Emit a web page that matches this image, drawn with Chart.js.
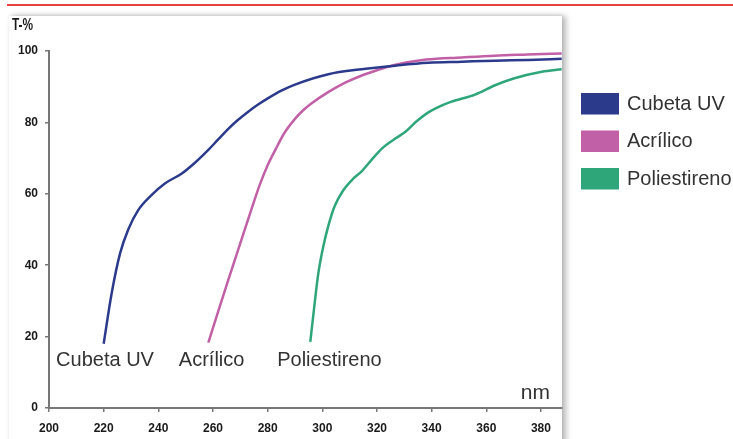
<!DOCTYPE html>
<html>
<head>
<meta charset="utf-8">
<script src="https://cdn.jsdelivr.net/npm/chart.js@4.4.1/dist/chart.umd.min.js"></script>
<style>
  html, body { margin: 0; padding: 0; background: #fff; width: 733px; height: 439px; overflow: hidden; }
  #redline { position: absolute; left: 7px; right: 0; top: 4px; height: 2px; background: #e6403f; }
  #panel { position: absolute; left: 9px; top: 16px; width: 553px; height: 440px; background: #fff;
           box-shadow: 4px 0 6px rgba(0,0,0,0.28), 0 -1px 3px rgba(0,0,0,0.08); }
  #wrap { position: absolute; left: 0; top: 0; width: 733px; height: 439px; }
</style>
</head>
<body>
<div id="redline"></div>
<div id="panel"></div>
<div id="wrap"><canvas id="c" width="733" height="439"></canvas></div>
<script>
// ---- data ----
const seriesNames = ['Cubeta UV', 'Acrílico', 'Poliestireno'];
const seriesColors = ['#2c3a8c', '#c160a6', '#2ea67a'];

const cubetaX = [220, 222.9, 226, 229, 232.7, 237.6, 242.4, 248.6, 253.4, 258.3, 262, 265.6, 269, 272.9, 276.5, 280.2, 285, 290, 302.2, 314.4, 326.6, 338.8, 351, 363.2, 375.4, 387.6];
const cubetaT = [18, 32, 43.3, 50, 55.5, 59.7, 62.9, 65.7, 68.7, 72.3, 75.3, 78.2, 80.6, 83, 85, 86.8, 88.9, 90.6, 93.5, 94.9, 95.9, 96.7, 97.0, 97.3, 97.5, 97.8];

const acrilicoX = [258.3, 262, 266, 270, 274, 277, 280, 283, 286, 290, 293, 296, 302, 308, 314, 320, 326, 338, 351, 363, 375, 387.6];
const acrilicoT = [18.3, 27.3, 36.8, 46.2, 55.5, 62.3, 68, 72.6, 76.9, 81.0, 83.4, 85.3, 88.4, 91, 93, 94.6, 96, 97.6, 98.2, 98.7, 99.0, 99.3];

const poliX = [295.6, 297, 298.5, 300.3, 302.2, 304.5, 307.5, 311, 314.4, 318, 321.7, 326.6, 330.3, 334.5, 338.8, 343, 347.3, 355.9, 363.2, 370, 380.3, 387.6];
const poliT = [18.5, 28, 37.5, 45, 51, 56.5, 60.8, 64, 66.3, 69.5, 72.6, 75.4, 77.3, 80.3, 82.8, 84.5, 85.8, 87.8, 90.4, 92.3, 94.2, 94.9];

const xTicks = [200, 220, 240, 260, 280, 300, 320, 340, 360, 380];
const yTicks = [0, 20, 40, 60, 80, 100];

// inline curve labels (data coordinates: centre nm, T-%)
const curveLabelX = [220.5, 259.5, 302.6];
const curveLabelY = [13.2, 13.2, 13.2];

const xAxisTitle = 'nm';
const yAxisTitle = 'T-%';

const allX = [cubetaX, acrilicoX, poliX];
const allT = [cubetaT, acrilicoT, poliT];

const datasets = seriesNames.map((name, i) => ({
  label: name,
  data: allX[i].map((x, j) => ({ x: x, y: allT[i][j] })),
  borderColor: seriesColors[i],
  backgroundColor: seriesColors[i],
  borderWidth: 2.5,
  pointRadius: 0,
  showLine: true,
  fill: false,
  cubicInterpolationMode: 'monotone'
}));

const labelFont = '20px "Liberation Sans", Arial, sans-serif';

const decorPlugin = {
  id: 'decor',
  afterDraw(chart) {
    const ctx = chart.ctx;
    const xs = chart.scales.x, ys = chart.scales.y;
    ctx.save();
    // y axis title (condensed bold)
    ctx.save();
    ctx.translate(12, 30);
    ctx.scale(0.74, 1);
    ctx.fillStyle = '#1a1a1a';
    ctx.font = 'bold 16px "Liberation Sans", Arial, sans-serif';
    ctx.textAlign = 'left';
    ctx.textBaseline = 'alphabetic';
    ctx.fillText(yAxisTitle, 0, 0);
    ctx.restore();
    // x axis title
    ctx.fillStyle = '#333';
    ctx.font = '21px "Liberation Sans", Arial, sans-serif';
    ctx.textAlign = 'right';
    ctx.textBaseline = 'alphabetic';
    ctx.fillText(xAxisTitle, 550, 399);
    // curve labels
    ctx.font = labelFont;
    ctx.textAlign = 'center';
    ctx.textBaseline = 'middle';
    seriesNames.forEach((n, i) => {
      ctx.fillText(n, xs.getPixelForValue(curveLabelX[i]), ys.getPixelForValue(curveLabelY[i]));
    });
    // legend
    chart.data.datasets.forEach((ds, i) => {
      const top = 93 + i * 37.5;
      ctx.fillStyle = ds.backgroundColor;
      ctx.fillRect(581, top, 38, 21.5);
      ctx.fillStyle = '#333';
      ctx.textAlign = 'left';
      ctx.fillText(ds.label, 627, top + 11);
    });
    ctx.restore();
  }
};

new Chart(document.getElementById('c'), {
  type: 'scatter',
  data: { datasets: datasets },
  plugins: [decorPlugin],
  options: {
    responsive: false,
    animation: false,
    layout: { padding: { left: 0, top: 51, right: 171, bottom: 0 } },
    plugins: { legend: { display: false }, tooltip: { enabled: false } },
    scales: {
      x: {
        type: 'linear',
        min: 200, max: 387.7,
        afterFit(s) { s.height = 31; },
        afterBuildTicks(s) { s.ticks = xTicks.map(v => ({ value: v })); },
        ticks: { color: '#1a1a1a', font: { family: '"Liberation Sans", Arial, sans-serif', size: 12, weight: 'bold' }, padding: 9, maxRotation: 0, autoSkip: false },
        grid: { drawOnChartArea: false, drawTicks: true, tickLength: 4, color: '#777', lineWidth: 1.5 },
        border: { color: '#777', width: 2 }
      },
      y: {
        type: 'linear',
        min: 0, max: 100,
        afterFit(s) { s.width = 49; },
        afterBuildTicks(s) { s.ticks = yTicks.map(v => ({ value: v })); },
        ticks: { color: '#1a1a1a', font: { family: '"Liberation Sans", Arial, sans-serif', size: 12, weight: 'bold' }, padding: 7 },
        grid: { drawOnChartArea: false, drawTicks: true, tickLength: 4, color: '#777', lineWidth: 1.5 },
        border: { color: '#777', width: 2 }
      }
    }
  }
});
</script>
</body>
</html>
